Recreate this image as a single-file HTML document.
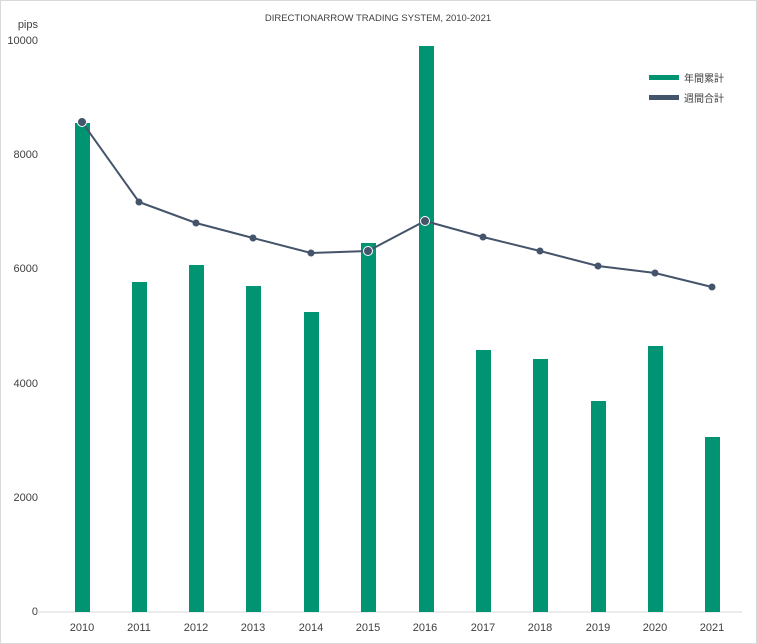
<!DOCTYPE html>
<html><head><meta charset="utf-8"><style>
html,body{margin:0;padding:0;background:#fff}
svg{display:block}
text{font-family:"Liberation Sans","Noto Sans CJK JP",sans-serif;fill:#404040}
</style></head><body>
<svg width="757" height="644" xmlns="http://www.w3.org/2000/svg">
<rect x="0.5" y="0.5" width="756" height="643" fill="#fff" stroke="#d9d9d9"/>
<text x="378" y="21" font-size="9.5" text-anchor="middle">DIRECTIONARROW TRADING SYSTEM, 2010-2021</text>
<text x="38" y="28" font-size="11" text-anchor="end">pips</text>
<g font-size="11" text-anchor="end">
<text x="38" y="44">10000</text>
<text x="38" y="158">8000</text>
<text x="38" y="272">6000</text>
<text x="38" y="387">4000</text>
<text x="38" y="501">2000</text>
<text x="38" y="615">0</text>
</g>
<line x1="37" y1="612" x2="742" y2="612" stroke="#d9d9d9"/>
<g fill="#009473">
<rect x="75" y="123" width="15" height="489"/>
<rect x="132" y="282" width="15" height="330"/>
<rect x="189" y="265" width="15" height="347"/>
<rect x="246" y="286" width="15" height="326"/>
<rect x="304" y="312" width="15" height="300"/>
<rect x="361" y="243" width="15" height="369"/>
<rect x="419" y="46" width="15" height="566"/>
<rect x="476" y="350" width="15" height="262"/>
<rect x="533" y="359" width="15" height="253"/>
<rect x="591" y="401" width="15" height="211"/>
<rect x="648" y="346" width="15" height="266"/>
<rect x="705" y="437" width="15" height="175"/>
</g>
<polyline fill="none" stroke="#44546a" stroke-width="2" points="82,122 139,202 196,223 253,238 311,253 368,251 425,221 483,237 540,251 598,266 655,273 712,287"/>
<g fill="#44546a">
<circle cx="82" cy="122" r="4.5" stroke="#fff" stroke-width="1"/>
<circle cx="139" cy="202" r="3.5"/>
<circle cx="196" cy="223" r="3.5"/>
<circle cx="253" cy="238" r="3.5"/>
<circle cx="311" cy="253" r="3.5"/>
<circle cx="368" cy="251" r="4.5" stroke="#fff" stroke-width="1"/>
<circle cx="425" cy="221" r="4.5" stroke="#fff" stroke-width="1"/>
<circle cx="483" cy="237" r="3.5"/>
<circle cx="540" cy="251" r="3.5"/>
<circle cx="598" cy="266" r="3.5"/>
<circle cx="655" cy="273" r="3.5"/>
<circle cx="712" cy="287" r="3.5"/>
</g>
<g font-size="11" text-anchor="middle">
<text x="82" y="631">2010</text><text x="139" y="631">2011</text><text x="196" y="631">2012</text><text x="253" y="631">2013</text>
<text x="311" y="631">2014</text><text x="368" y="631">2015</text><text x="425" y="631">2016</text><text x="483" y="631">2017</text>
<text x="540" y="631">2018</text><text x="598" y="631">2019</text><text x="655" y="631">2020</text><text x="712" y="631">2021</text>
</g>
<rect x="649" y="75" width="30" height="5" fill="#009473"/>
<text x="684" y="82" font-size="10">年間累計</text>
<rect x="649" y="95" width="30" height="5" fill="#44546a"/>
<text x="684" y="102" font-size="10">週間合計</text>
</svg>
</body></html>
